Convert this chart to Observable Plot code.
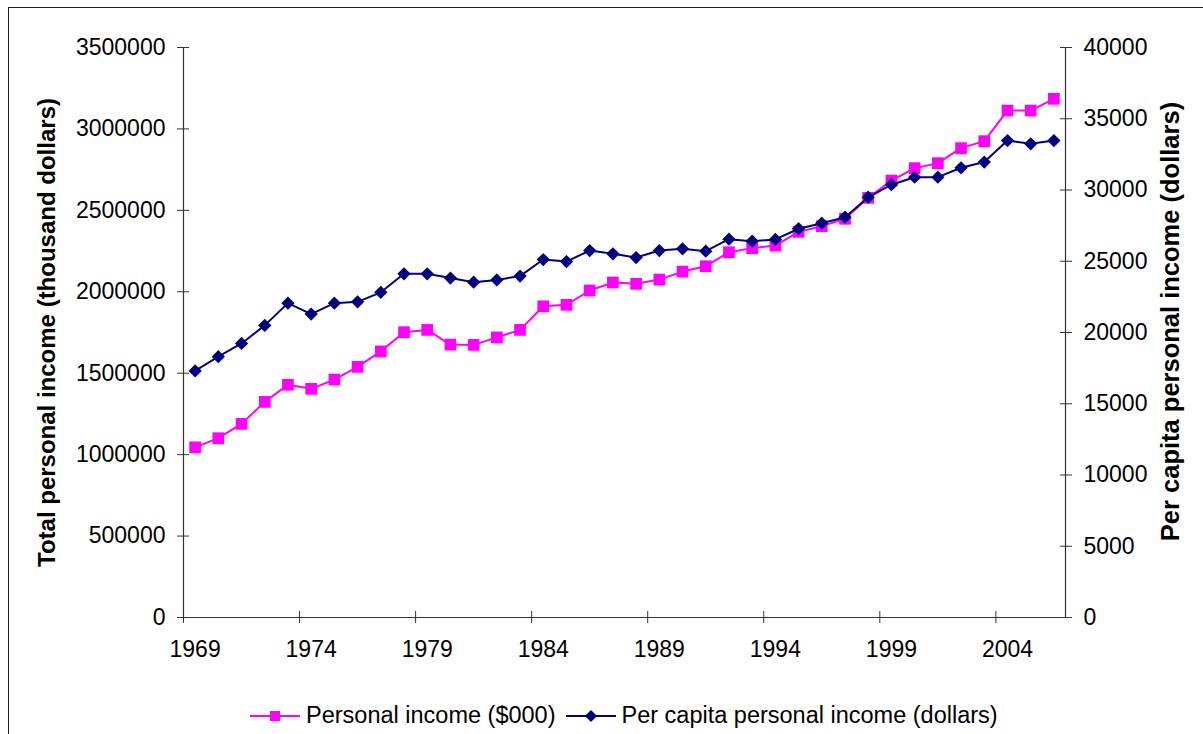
<!DOCTYPE html>
<html>
<head>
<meta charset="utf-8">
<script src="https://cdn.jsdelivr.net/npm/d3@7"></script>
<script src="https://cdn.jsdelivr.net/npm/@observablehq/plot@0.6"></script>
<style>
  html, body { margin: 0; padding: 0; background: #fff; }
  #wrap { position: relative; width: 1203px; height: 734px; overflow: hidden; font-family: "Liberation Sans", Arial, sans-serif; }
  #frame { position: absolute; left: 8px; top: 7px; width: 1300px; height: 800px; border: 1px solid #222; box-sizing: border-box; pointer-events: none; }
  #legend { position: absolute; left: 250px; top: 702px; display: flex; align-items: center; font-size: 23.5px; color: #000; white-space: nowrap; }
  #legend .item { display: flex; align-items: center; margin-right: 10px; }
  #legend svg { margin-right: 6px; }
</style>
</head>
<body>
<div id="wrap">
  <div id="chart"></div>
  <div id="legend"></div>
  <div id="frame"></div>
</div>
<script>
// Years on the category axis
const years = [1969, 1970, 1971, 1972, 1973, 1974, 1975, 1976, 1977, 1978,
               1979, 1980, 1981, 1982, 1983, 1984, 1985, 1986, 1987, 1988,
               1989, 1990, 1991, 1992, 1993, 1994, 1995, 1996, 1997, 1998,
               1999, 2000, 2001, 2002, 2003, 2004, 2005, 2006];

// Total personal income, thousand dollars (left axis)
const personalIncome = [1045000, 1101000, 1189000, 1324000, 1429000, 1404000, 1461000, 1539000, 1634000, 1752000,
                        1766000, 1676000, 1674000, 1720000, 1766000, 1911000, 1920000, 2008000, 2057000, 2049000,
                        2075000, 2124000, 2157000, 2243000, 2268000, 2284000, 2368000, 2403000, 2448000, 2577000,
                        2683000, 2759000, 2790000, 2882000, 2925000, 3113000, 3113000, 3185000];

// Per capita personal income, dollars (right axis)
const perCapita = [17300, 18300, 19230, 20500, 22060, 21290, 22060, 22150, 22820, 24120,
                   24120, 23820, 23530, 23690, 23960, 25120, 24980, 25750, 25520, 25260,
                   25750, 25870, 25710, 26550, 26410, 26530, 27280, 27670, 28090, 29490,
                   30370, 30900, 30900, 31560, 31960, 33470, 33240, 33470];

// Axis tick values
const leftTicks = [0, 500000, 1000000, 1500000, 2000000, 2500000, 3000000, 3500000];
const rightTicks = [0, 5000, 10000, 15000, 20000, 25000, 30000, 35000, 40000];
const yearLabels = [1969, 1974, 1979, 1984, 1989, 1994, 1999, 2004];

const seriesNames = ["Personal income ($000)", "Per capita personal income (dollars)"];
const colors = ["#ff00ff", "#000080"];

const leftMax = 3500000, rightMax = 40000;
const ratio = leftMax / rightMax; // maps the right axis onto the left scale

const incomeRows = years.map((y, i) => ({year: y, value: personalIncome[i]}));
const capitaRows = years.map((y, i) => ({year: y, value: perCapita[i] * ratio}));

// Category boundaries: points sit at category centres, tick marks between categories
const xDomain = [years[0] - 0.5, years[years.length - 1] + 0.5];
const boundaries = yearLabels.map(y => y - 0.5);

// Excel-style diamond: square rotated 45°
const diamond = {
  draw(context, size) {
    const h = Math.sqrt(size / 2);
    context.moveTo(0, -h);
    context.lineTo(h, 0);
    context.lineTo(0, h);
    context.lineTo(-h, 0);
    context.closePath();
  }
};

const font = "Liberation Sans, Arial, sans-serif";
const axisColor = "#333";
const tickFont = 23;

const chart = Plot.plot({
  width: 1203,
  height: 690,
  marginLeft: 183,
  marginRight: 138,
  marginTop: 47,
  marginBottom: 73,
  style: {fontFamily: font, fontSize: "23px", color: "#000", background: "transparent", overflow: "visible"},
  x: {type: "linear", domain: xDomain, axis: null},
  y: {domain: [0, leftMax], axis: null},
  marks: [
    // axis lines
    Plot.ruleY([0], {stroke: axisColor, strokeWidth: 1.2}),
    Plot.ruleX([xDomain[0], xDomain[1]], {stroke: axisColor, strokeWidth: 1.2}),
    // x tick marks crossing the axis
    Plot.axisX({ticks: boundaries, tickSize: 12, dy: -6, tickFormat: () => "", stroke: axisColor, label: null}),
    // x labels centred on their categories
    Plot.axisX({ticks: yearLabels, tickSize: 0, tickPadding: 23, tickFormat: d => String(d), fontSize: tickFont, label: null}),
    // left axis
    Plot.axisY({anchor: "left", ticks: leftTicks, tickSize: 12, dx: 6, tickPadding: 12,
                tickFormat: d => String(d), fontSize: tickFont, stroke: axisColor, label: null}),
    // right axis, labelled in dollars
    Plot.axisY({anchor: "right", ticks: rightTicks.map(v => v * ratio), tickSize: 12, dx: -6, tickPadding: 12,
                tickFormat: d => String(Math.round(d / ratio)), fontSize: tickFont, stroke: axisColor, label: null}),
    // axis titles
    Plot.text(["Total personal income (thousand dollars)"], {
      frameAnchor: "left", rotate: -90, dx: -136, fontWeight: "bold", fontSize: 24, textAnchor: "middle"
    }),
    Plot.text(["Per capita personal income (dollars)"], {
      frameAnchor: "right", rotate: -90, dx: 105, dy: -11, fontWeight: "bold", fontSize: 25.5, textAnchor: "middle"
    }),
    // series
    Plot.line(incomeRows, {x: "year", y: "value", stroke: colors[0], strokeWidth: 2}),
    Plot.dot(incomeRows, {x: "year", y: "value", symbol: "square", r: 6.6, fill: colors[0], stroke: "none"}),
    Plot.line(capitaRows, {x: "year", y: "value", stroke: colors[1], strokeWidth: 2}),
    Plot.dot(capitaRows, {x: "year", y: "value", symbol: diamond, r: 5.3, fill: colors[1], stroke: "none"})
  ]
});
document.getElementById("chart").appendChild(chart);

// Legend below the plot
const legend = d3.select("#legend");
seriesNames.forEach((name, i) => {
  const item = legend.append("div").attr("class", "item");
  const sw = item.append("svg").attr("width", 50).attr("height", 16);
  sw.append("line").attr("x1", 0).attr("x2", 50).attr("y1", 8).attr("y2", 8)
    .attr("stroke", colors[i]).attr("stroke-width", 2);
  if (i === 0) {
    sw.append("rect").attr("x", 20).attr("y", 3).attr("width", 10).attr("height", 10).attr("fill", colors[i]);
  } else {
    sw.append("path").attr("d", "M25,2L31,8L25,14L19,8Z").attr("fill", colors[i]);
  }
  item.append("span").text(name);
});
</script>
</body>
</html>
